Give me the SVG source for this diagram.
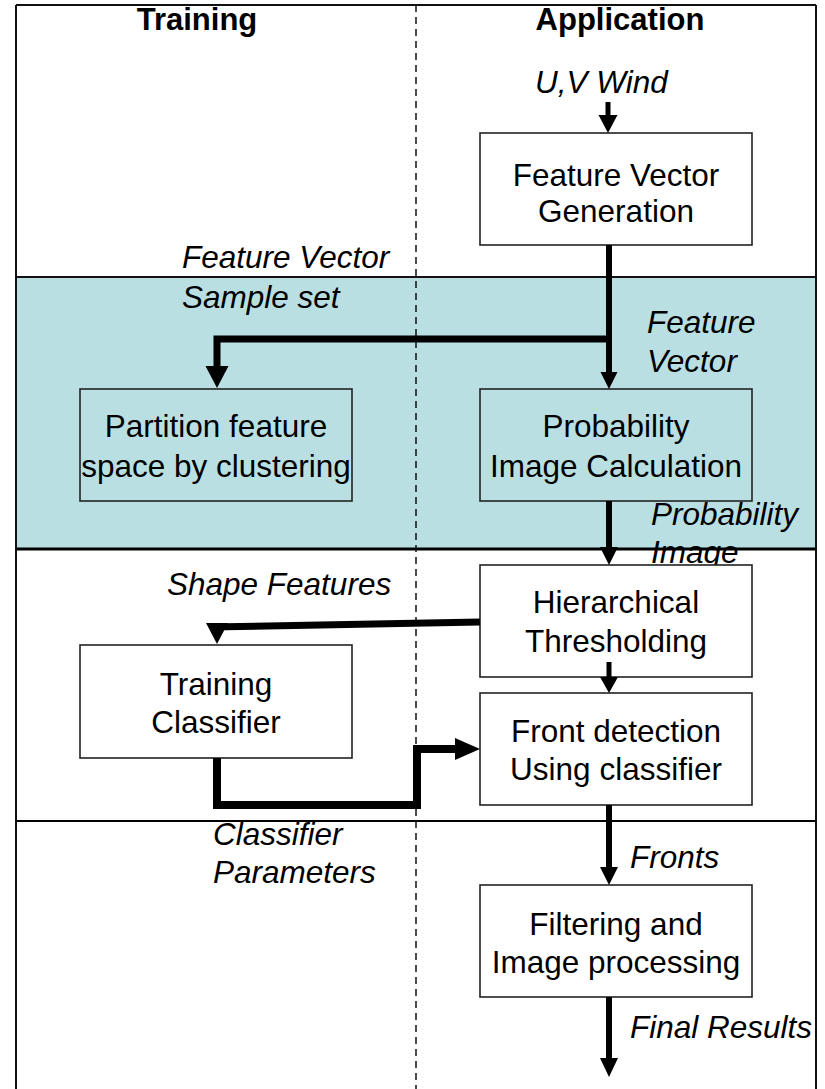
<svg xmlns="http://www.w3.org/2000/svg" width="825" height="1089" viewBox="0 0 825 1089">
<style>
text{font-family:"Liberation Sans",Arial,sans-serif;font-size:31.5px;fill:#000}
.t{font-weight:bold;font-size:31px;text-anchor:middle}
.c{text-anchor:middle}
.i{font-style:italic}
.box{stroke:#222;stroke-width:1.6}
.w{fill:#fff}
.teal{fill:#B9DFE3}
.ln{fill:none;stroke:#000}
.ah{fill:#000}
</style>
<rect x="0" y="0" width="825" height="1089" fill="#fff"/>
<g id="bands">
<rect x="16" y="277" width="800" height="272" class="teal"/>
<line x1="16" y1="277" x2="816" y2="277" stroke="#111" stroke-width="2"/>
<line x1="16" y1="549" x2="816" y2="549" stroke="#000" stroke-width="3"/>
<line x1="16" y1="821" x2="816" y2="821" stroke="#000" stroke-width="2.2"/>
<line x1="16" y1="5" x2="816" y2="5" stroke="#111" stroke-width="2"/>
<line x1="16" y1="5" x2="16" y2="1089" stroke="#111" stroke-width="2"/>
<line x1="816" y1="5" x2="816" y2="1089" stroke="#111" stroke-width="2"/>
<line x1="416" y1="5" x2="416" y2="1089" stroke="#111" stroke-width="1.5" stroke-dasharray="7,5"/>
</g>
<g id="titles">
<text class="t" x="197" y="30">Training</text>
<text class="t" x="620" y="30">Application</text>
</g>
<g id="labels">
<text class="i" x="535" y="93">U,V Wind</text>
<text class="i" x="182" y="268">Feature Vector</text>
<text class="i" x="182" y="308">Sample set</text>
<text class="i" x="647" y="333">Feature</text>
<text class="i" x="647" y="372">Vector</text>
<text class="i" x="651" y="525">Probability</text>
<text class="i" x="651" y="563">Image</text>
<text class="i" x="167" y="595">Shape Features</text>
<text class="i" x="213" y="845">Classifier</text>
<text class="i" x="213" y="883">Parameters</text>
<text class="i" x="630" y="868">Fronts</text>
<text class="i" x="630" y="1038">Final Results</text>
</g>
<g id="node-fvg">
<rect class="box w" x="480" y="133" width="272" height="112"/>
<text class="c" x="616" y="186">Feature Vector</text>
<text class="c" x="616" y="222">Generation</text>
</g>
<g id="node-partition">
<rect class="box teal" x="80" y="389" width="272" height="112"/>
<text class="c" x="216" y="437">Partition feature</text>
<text class="c" x="216" y="477">space by clustering</text>
</g>
<g id="node-prob">
<rect class="box teal" x="480" y="389" width="272" height="112"/>
<text class="c" x="616" y="437">Probability</text>
<text class="c" x="616" y="477">Image Calculation</text>
</g>
<g id="node-hier">
<rect class="box w" x="480" y="565" width="272" height="112"/>
<text class="c" x="616" y="613">Hierarchical</text>
<text class="c" x="616" y="652">Thresholding</text>
</g>
<g id="node-train">
<rect class="box w" x="80" y="645" width="272" height="113"/>
<text class="c" x="216" y="695">Training</text>
<text class="c" x="216" y="733">Classifier</text>
</g>
<g id="node-front">
<rect class="box w" x="480" y="693" width="272" height="112"/>
<text class="c" x="616" y="742">Front detection</text>
<text class="c" x="616" y="780">Using classifier</text>
</g>
<g id="node-filter">
<rect class="box w" x="480" y="885" width="272" height="112"/>
<text class="c" x="616" y="935">Filtering and</text>
<text class="c" x="616" y="973">Image processing</text>
</g>
<g id="connectors">
<line class="ln" x1="608" y1="102" x2="608" y2="117" stroke-width="5"/>
<polygon class="ah" points="598.5,115 617.5,115 608,133"/>
<line class="ln" x1="609" y1="245" x2="609" y2="374" stroke-width="6"/>
<polygon class="ah" points="600.5,372 617.5,372 609,389"/>
<polyline class="ln" points="609,339 217,339 217,368" stroke-width="7"/>
<polygon class="ah" points="205.5,366 228.5,366 217,388"/>
<line class="ln" x1="609" y1="501" x2="609" y2="549" stroke-width="6"/>
<polygon class="ah" points="600,547 618,547 609,565"/>
<line class="ln" x1="609" y1="662" x2="609" y2="679" stroke-width="5"/>
<polygon class="ah" points="600,677 618,677 609,693"/>
<line class="ln" x1="480" y1="622" x2="210" y2="627" stroke-width="7"/>
<polygon class="ah" points="206,623 228,623 217,644"/>
<polyline class="ln" points="217,758 217,805 417,805 417,749 457,749" stroke-width="8" stroke-linejoin="miter"/>
<polygon class="ah" points="455,738 455,760 480,749"/>
<line class="ln" x1="609" y1="805" x2="609" y2="869" stroke-width="6"/>
<polygon class="ah" points="600,867 618,867 609,885"/>
<line class="ln" x1="609" y1="997" x2="609" y2="1060" stroke-width="6"/>
<polygon class="ah" points="600,1058 618,1058 609,1077"/>
</g>
</svg>
